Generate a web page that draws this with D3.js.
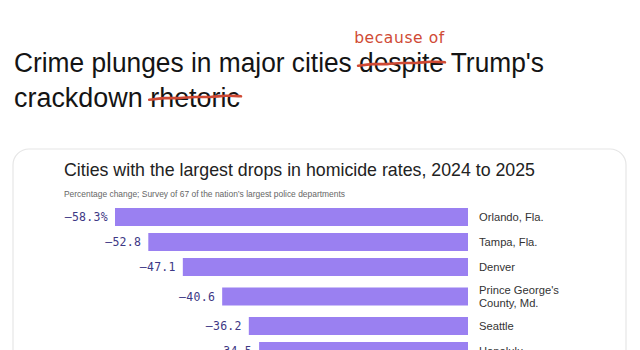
<!DOCTYPE html>
<html>
<head>
<meta charset="utf-8">
<script src="https://cdn.jsdelivr.net/npm/d3@7"></script>
<style>
  body { margin: 0; background: #fff; }
  svg { display: block; }
</style>
</head>
<body>
<div id="chart"></div>
<script>
'use strict'

// data
var cities = ["Orlando, Fla.", "Tampa, Fla.", "Denver", "Prince George's\nCounty, Md.", "Seattle", "Honolulu"];
var changes = [-58.3, -52.8, -47.1, -40.6, -36.2, -34.5];
var valueLabels = ["-58.3%", "-52.8", "-47.1", "-40.6", "-36.2", "-34.5"];

var headline1 = "Crime plunges in major cities despite Trump's";
var headline2 = "crackdown rhetoric";
var struckWords = ["despite", "rhetoric"];
var scribble = "because of";
var chartTitle = "Cities with the largest drops in homicide rates, 2024 to 2025";
var chartSub = "Percentage change; Survey of 67 of the nation\u2019s largest police departments";

var W = 640, H = 350;
var red = "#d04a35";
var barColor = "#9a80f1";

var svg = d3.select("#chart").append("svg").attr("width", W).attr("height", H);
svg.append("rect").attr("width", W).attr("height", H).attr("fill", "#fff");

// headline
var h1 = svg.append("text").attr("x", 14).attr("y", 72)
    .attr("font-family", "Liberation Sans, Arial, sans-serif").attr("font-size", 27)
    .attr("fill", "#141414").attr("textLength", 530).attr("lengthAdjust", "spacingAndGlyphs")
    .text(headline1);
var h2 = svg.append("text").attr("x", 14).attr("y", 107)
    .attr("font-family", "Liberation Sans, Arial, sans-serif").attr("font-size", 27)
    .attr("fill", "#141414").attr("textLength", 226).attr("lengthAdjust", "spacingAndGlyphs")
    .text(headline2);

// hand drawn strike through a word
var wobble = d3.line().curve(d3.curveBasis);
function strike(node, text, word, dy) {
    var i = text.indexOf(word);
    var a = node.getExtentOfChar(i);
    var b = node.getExtentOfChar(i + word.length - 1);
    var x0 = a.x - 1, x1 = b.x + b.width + 1;
    var y0 = node.getAttribute("y") - dy;
    var pts = [];
    for (var k = 0; k <= 6; k++) {
        var t = k / 6;
        pts.push([x0 + (x1 - x0) * t, y0 - t * 3.5 + (k % 2 ? -0.8 : 0.8)]);
    }
    svg.append("path").attr("d", wobble(pts)).attr("fill", "none")
        .attr("stroke", red).attr("stroke-width", 2.6).attr("stroke-linecap", "round");
    return [x0, x1];
}
var sx = strike(h1.node(), headline1, struckWords[0], 7);
strike(h2.node(), headline2, struckWords[1], 8);

svg.append("text").attr("x", (sx[0] + sx[1]) / 2 - 2).attr("y", 43)
    .attr("text-anchor", "middle")
    .attr("font-family", "DejaVu Sans, sans-serif").attr("font-size", 15.5)
    .attr("letter-spacing", 0.6).attr("fill", red)
    .text(scribble);

// card
svg.append("rect").attr("x", 13).attr("y", 149).attr("width", 613).attr("height", 230)
    .attr("rx", 16).attr("fill", "#fff").attr("stroke", "#e6e6e6").attr("stroke-width", 1.2);

svg.append("text").attr("x", 64).attr("y", 176)
    .attr("font-family", "Liberation Sans, Arial, sans-serif").attr("font-size", 18.5)
    .attr("fill", "#222").attr("textLength", 471).attr("lengthAdjust", "spacingAndGlyphs")
    .text(chartTitle);
svg.append("text").attr("x", 64).attr("y", 197)
    .attr("font-family", "Liberation Sans, Arial, sans-serif").attr("font-size", 8.6)
    .attr("fill", "#666").attr("textLength", 281).attr("lengthAdjust", "spacingAndGlyphs")
    .text(chartSub);

// rows: two-line labels get a taller row
var rows = cities.map(function(c, i) {
    return { city: c.split("\n"), value: changes[i], label: valueLabels[i] };
});
var top0 = 204.5;
rows.forEach(function(r, i) {
    r.h = r.city.length > 1 ? 34 : 25;
    r.top = i == 0 ? top0 : rows[i - 1].top + rows[i - 1].h;
    r.cy = r.top + r.h / 2;
});

var x = d3.scaleLinear().domain([d3.min(changes), 0]).range([115, 468]);
var barH = 18;

var g = svg.append("g");
var row = g.selectAll(".row").data(rows).enter().append("g").attr("class", "row");

row.append("rect")
    .attr("x", function(d) { return x(d.value); })
    .attr("y", function(d) { return d.cy - barH / 2; })
    .attr("width", function(d) { return x(0) - x(d.value); })
    .attr("height", barH)
    .attr("fill", barColor);

row.append("text")
    .attr("x", function(d) { return x(d.value) - 7; })
    .attr("y", function(d) { return d.cy + 4; })
    .attr("text-anchor", "end")
    .attr("font-family", "DejaVu Sans Mono, monospace").attr("font-size", 11.5)
    .attr("letter-spacing", 0.3)
    .attr("fill", "#3d3885")
    .text(function(d) { return d.label.replace("-", "\u2013"); });

row.append("text")
    .attr("x", x(0) + 11)
    .attr("y", function(d) { return d.cy + 3.5 - (d.city.length - 1) * 6.5; })
    .attr("font-family", "Liberation Sans, Arial, sans-serif").attr("font-size", 11.2)
    .attr("fill", "#333")
    .selectAll("tspan").data(function(d) { return d.city; }).enter().append("tspan")
    .attr("x", x(0) + 11)
    .attr("dy", function(d, i) { return i == 0 ? 0 : 13; })
    .text(function(d) { return d; });
</script>
</body>
</html>
